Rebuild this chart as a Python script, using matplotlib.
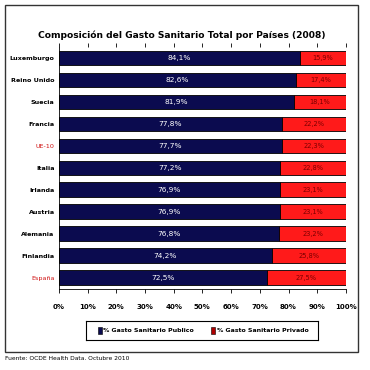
import matplotlib
matplotlib.use("Agg")
import matplotlib.pyplot as plt
from matplotlib.patches import Rectangle

countries = ["Luxemburgo", "Reino Unido", "Suecia", "Francia", "UE-10", "Italia",
             "Irlanda", "Austria", "Alemania", "Finlandia", "España"]
publico = [84.1, 82.6, 81.9, 77.8, 77.7, 77.2, 76.9, 76.9, 76.8, 74.2, 72.5]
privado = [15.9, 17.4, 18.1, 22.2, 22.3, 22.8, 23.1, 23.1, 23.2, 25.8, 27.5]
xticks = [0, 10, 20, 30, 40, 50, 60, 70, 80, 90, 100]
highlight = ["UE-10", "España"]

plt.rcParams['font.family'] = ['DejaVu Sans']
fig = plt.figure(figsize=(3.7, 3.7), dpi=100)
ax = fig.add_axes([0.159, 0.219, 0.776, 0.654])

navy = "#0b0b4f"
red = "#ff1a1a"
y = list(range(len(countries)))
ax.barh(y, publico, height=0.68, color=navy, edgecolor="black", linewidth=0.6)
ax.barh(y, privado, left=publico, height=0.68, color=red, edgecolor="black", linewidth=0.6)
for i in y:
    ax.text(publico[i] / 2, i, f"{publico[i]:.1f}".replace(".", ",") + "%",
            ha="center", va="center", color="white", fontsize=5.3)
    ax.text(publico[i] + privado[i] / 2, i, f"{privado[i]:.1f}".replace(".", ",") + "%",
            ha="center", va="center", color="#7a0000", fontsize=4.8)
ax.set_ylim(len(countries) - 0.5, -0.5)
ax.set_xlim(0, 100)
ax.set_xticks(xticks)
ax.set_xticklabels([f"{t}%" for t in xticks], fontsize=5, fontweight="bold")
ax.set_yticks(y)
ax.set_yticklabels(countries, fontsize=4.6, fontweight="bold")
for lab in ax.get_yticklabels():
    if lab.get_text() in highlight:
        lab.set_color("#d01010")
        lab.set_fontweight("normal")
ax.tick_params(axis="y", length=0, pad=3)
ax.tick_params(axis="x", length=3, width=0.6, top=True, pad=8)
ax.spines["right"].set_visible(False)
ax.spines["top"].set_visible(False)
ax.spines["left"].set_linewidth(0.6)
ax.spines["bottom"].set_linewidth(0.6)

fig.text(0.49, 0.905, "Composición del Gasto Sanitario Total por Países (2008)",
         ha="center", va="center", fontsize=6.6, fontweight="bold")

# outer frame
fig.patches.append(Rectangle((5/370, 1-352/370), 353/370, 347/370, transform=fig.transFigure,
                             fill=False, edgecolor="#333333", linewidth=1.0))
# legend
leg = fig.add_axes([86/370, 1-340/370, 232/370, 19/370])
leg.set_xlim(0, 1); leg.set_ylim(0, 1)
leg.set_xticks([]); leg.set_yticks([])
for s in leg.spines.values():
    s.set_linewidth(0.8)
leg.add_patch(Rectangle((0.05, 0.3), 0.018, 0.4, facecolor=navy, edgecolor="black", linewidth=0.4))
leg.text(0.075, 0.5, "% Gasto Sanitario Publico", va="center", fontsize=4.5, fontweight="bold")
leg.add_patch(Rectangle((0.54, 0.3), 0.018, 0.4, facecolor="#b00000", edgecolor="black", linewidth=0.4))
leg.text(0.565, 0.5, "% Gasto Sanitario Privado", va="center", fontsize=4.5, fontweight="bold")

fig.text(5/370, 1-359/370, "Fuente: OCDE Health Data. Octubre 2010", fontsize=4.3, va="center")

fig.savefig("out.png", dpi=100)
